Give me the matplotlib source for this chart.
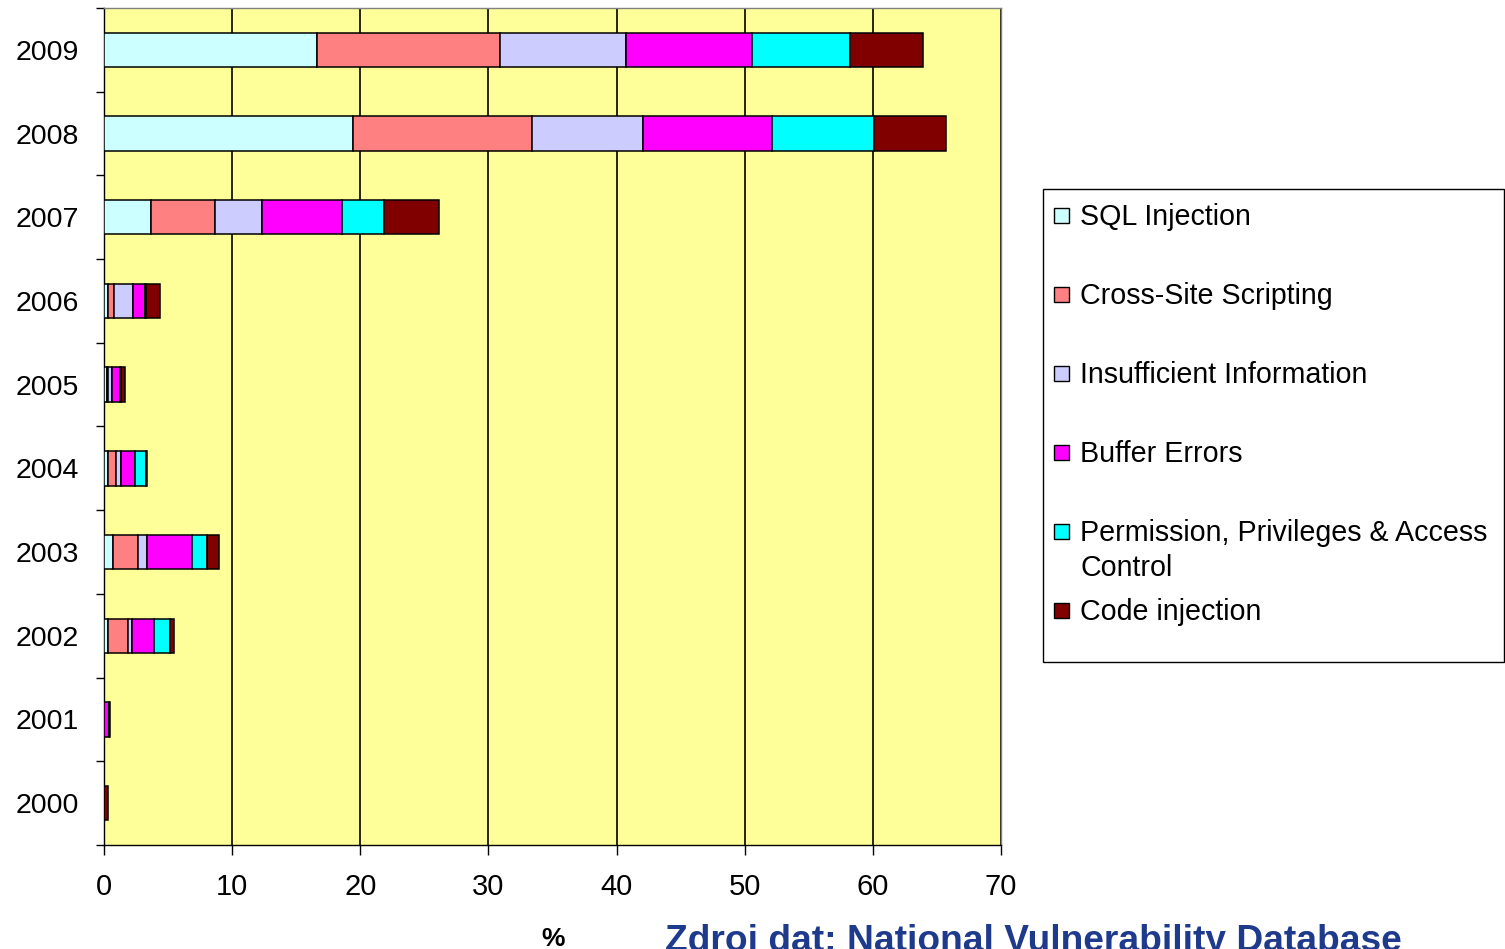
import numpy as np
import matplotlib.pyplot as plt
from matplotlib.patches import Rectangle

plt.rcParams['font.family'] = ['Liberation Sans', 'DejaVu Sans']

years = ['2000', '2001', '2002', '2003', '2004', '2005', '2006', '2007', '2008', '2009']
categories = ['SQL Injection', 'Cross-Site Scripting', 'Insufficient Information',
              'Buffer Errors', 'Permission, Privileges & Access\nControl', 'Code injection']
colors = ['#CCFFFF', '#FF8080', '#CCCCFF', '#FF00FF', '#00FFFF', '#800000']

# share of vulnerabilities (%) per year, one list per category
sql_injection = [0.0, 0.0, 0.3, 0.73, 0.3, 0.2, 0.3, 3.7, 19.4, 16.6]
xss = [0.0, 0.0, 1.6, 1.95, 0.65, 0.1, 0.5, 5.0, 14.0, 14.3]
insufficient = [0.0, 0.0, 0.27, 0.65, 0.4, 0.3, 1.45, 3.6, 8.7, 9.8]
buffer_errors = [0.0, 0.4, 1.7, 3.5, 1.05, 0.65, 0.95, 6.25, 10.0, 9.9]
permissions = [0.0, 0.0, 1.3, 1.17, 0.9, 0.1, 0.1, 3.3, 8.0, 7.6]
code_injection = [0.35, 0.05, 0.3, 1.0, 0.05, 0.3, 1.1, 4.3, 5.6, 5.7]
series = [sql_injection, xss, insufficient, buffer_errors, permissions, code_injection]

W, H = 1505, 949
fig = plt.figure(figsize=(W / 100, H / 100), dpi=100)
ax = fig.add_axes([104 / W, (H - 845) / H, 897 / W, (845 - 8) / H])
ax.set_facecolor('#FFFF99')

y = np.arange(len(years))
left = np.zeros(len(years))
for vals, col in zip(series, colors):
    ax.barh(y, vals, left=left, height=0.41, color=col, edgecolor='black',
            linewidth=1.1, zorder=3)
    left += np.array(vals)

ax.set_xlim(0, 70)
ax.set_ylim(-0.5, 9.5)
ax.set_xticks(np.arange(0, 71, 10))
ax.set_yticks(y)
ax.set_yticklabels(years)
ax.set_yticks(np.arange(-0.5, 10, 1), minor=True)
ax.tick_params(axis='y', which='major', length=0, pad=18, labelsize=20.5)
ax.tick_params(axis='y', which='minor', length=6, width=1, direction='out')
ax.tick_params(axis='x', length=7, width=1, direction='out', pad=13, labelsize=21)
ax.grid(axis='x', color='black', linewidth=1.2, zorder=1)
for s in ['left', 'bottom']:
    ax.spines[s].set_color('black')
    ax.spines[s].set_linewidth(1.0)
for s in ['top', 'right']:
    ax.spines[s].set_color('#808080')
    ax.spines[s].set_linewidth(1.0)


def fx(px):
    return px / W


def fy(py):
    return (H - py) / H


# legend box drawn in figure pixels
fig.patches.append(Rectangle((fx(1043), fy(662)), fx(1504) - fx(1043), fy(189) - fy(662),
                             transform=fig.transFigure, facecolor='white',
                             edgecolor='black', linewidth=1.0))
rows = [215, 294, 373, 452, 531, 610]
for py, lab, col in zip(rows, categories, colors):
    fig.patches.append(Rectangle((fx(1054), fy(py + 8)), fx(15), 15 / H,
                                 transform=fig.transFigure, facecolor=col,
                                 edgecolor='black', linewidth=1.0))
    for i, line in enumerate(lab.split('\n')):
        fig.text(fx(1080), fy(py + 10 + 35 * i), line, fontsize=20.6,
                 va='baseline', ha='left')

fig.text(fx(553), fy(946), '%', fontsize=19, fontweight='bold', ha='center',
         va='baseline')
fig.text(fx(665), fy(951), 'Zdroj dat: National Vulnerability Database', fontsize=26.7,
         fontweight='bold', color='#1E3A8C', ha='left', va='baseline')

fig.savefig('out.png', dpi=100)
